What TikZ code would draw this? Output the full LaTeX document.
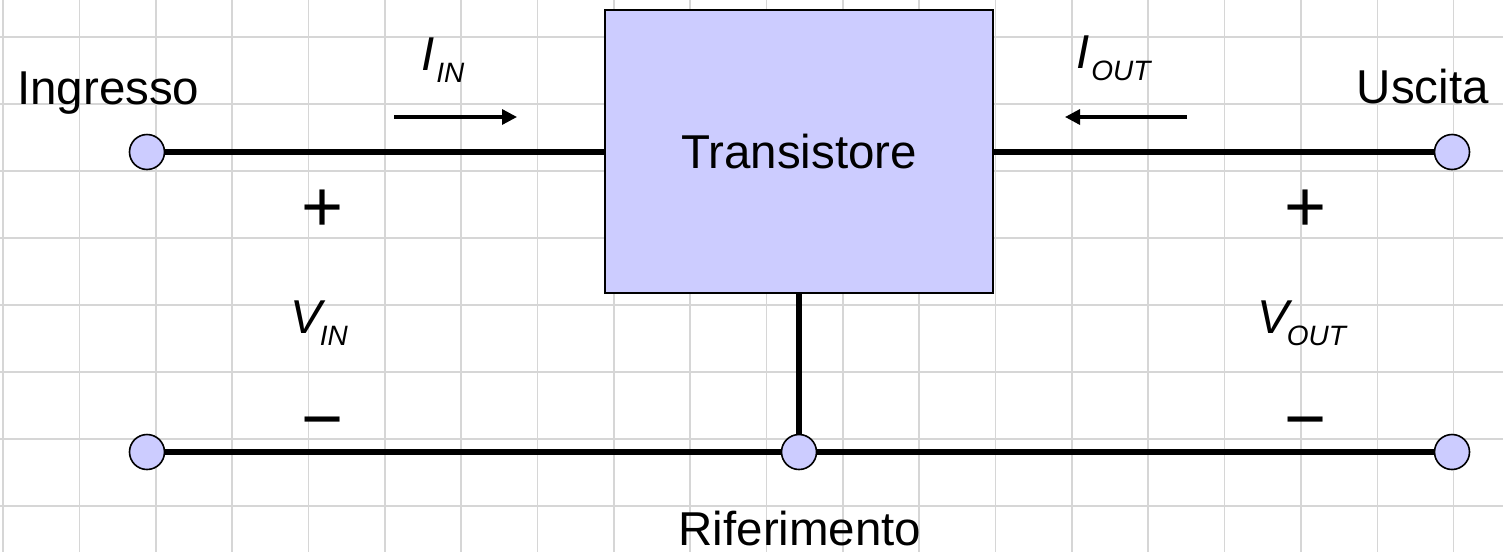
\documentclass[tikz,border=0pt]{standalone}
\usepackage{fontspec}
\setmainfont{Liberation Sans}
\usetikzlibrary{arrows.meta}
\definecolor{gridgray}{RGB}{214,214,214}
\definecolor{lavender}{RGB}{204,204,255}
\newcommand{\bigtxt}{\fontsize{47.5}{57}\selectfont}
\newcommand{\signtxt}{\fontsize{72}{80}\selectfont}
% italic quantity with a lowered subscript: #1 kern, #2 symbol, #3 subscript
\newcommand{\qty}[3]{{\itshape\bigtxt #2\kern#1\raisebox{-12pt}{\fontsize{28}{34}\selectfont #3}}}
\begin{document}
\begin{tikzpicture}[x=1pt,y=-1pt,
  wire/.style={line width=5.5pt},
  terminal/.style={circle,draw=black,line width=1.6pt,fill=lavender,minimum size=35pt,inner sep=0pt},
  block/.style={draw=black,line width=1.6pt,fill=lavender,minimum width=388pt,minimum height=283pt,inner sep=0pt,font=\bigtxt},
  lbl/.style={inner sep=0pt,font=\bigtxt},
  sign/.style={inner sep=0pt,anchor=base,font=\signtxt},
  current/.style={line width=3.3pt,-{Triangle[length=15pt,width=15pt]}}]
\useasboundingbox (0,0) rectangle (1503,552);
\fill[white] (0,0) rectangle (1503,552);
% paper grid
\foreach \k in {0,...,19} \draw[gridgray,line width=1.6pt] ({3+76.35*\k},0) -- ({3+76.35*\k},552);
\foreach \k in {0,...,7} \draw[gridgray,line width=1.6pt] (0,{37+67*\k}) -- (1503,{37+67*\k});
% the two-port block and its terminals
\node[block] (box) at (799,151.5) {Transistore};
\node[terminal] (inp) at (147,152) {};
\node[terminal] (out) at (1452,152) {};
\node[terminal] (gndL) at (147,452) {};
\node[terminal] (gndM) at (799,452) {};
\node[terminal] (gndR) at (1452,452) {};
% wiring
\draw[wire] (inp) -- (inp -| box.west);
\draw[wire] (out -| box.east) -- (out);
\draw[wire] (gndL) -- (gndM) -- (gndR);
\draw[wire] (box.south) -- (gndM);
% port names
\node[lbl,anchor=base west] (ingresso) at (17,104) {Ingresso};
\node[lbl,anchor=base east] (uscita) at (1489,103) {Uscita};
\node[lbl,anchor=base] (rif) at (800,545) {Riferimento};
% currents
\node[lbl,anchor=base west] (iin) at (421,70) {\qty{2pt}{I}{IN}};
\node[lbl,anchor=base west] (iout) at (1076,68) {\qty{2pt}{I}{OUT}};
\coordinate (iinA) at (394,117);
\coordinate (iinB) at (517,117);
\coordinate (ioutA) at (1187,117);
\coordinate (ioutB) at (1065,117);
\draw[current] (iinA) -- (iinB);
\draw[current] (ioutA) -- (ioutB);
% voltages
\node[sign] (pin) at (323,231) {+};
\node[sign] (min) at (323,443) {−};
\node[lbl,anchor=base west] (vin) at (290,333) {\qty{-2pt}{V}{IN}};
\node[sign] (pout) at (1306,231) {+};
\node[sign] (mout) at (1306,443) {−};
\node[lbl,anchor=base west] (vout) at (1257,333) {\qty{-2pt}{V}{OUT}};
\end{tikzpicture}
\end{document}
